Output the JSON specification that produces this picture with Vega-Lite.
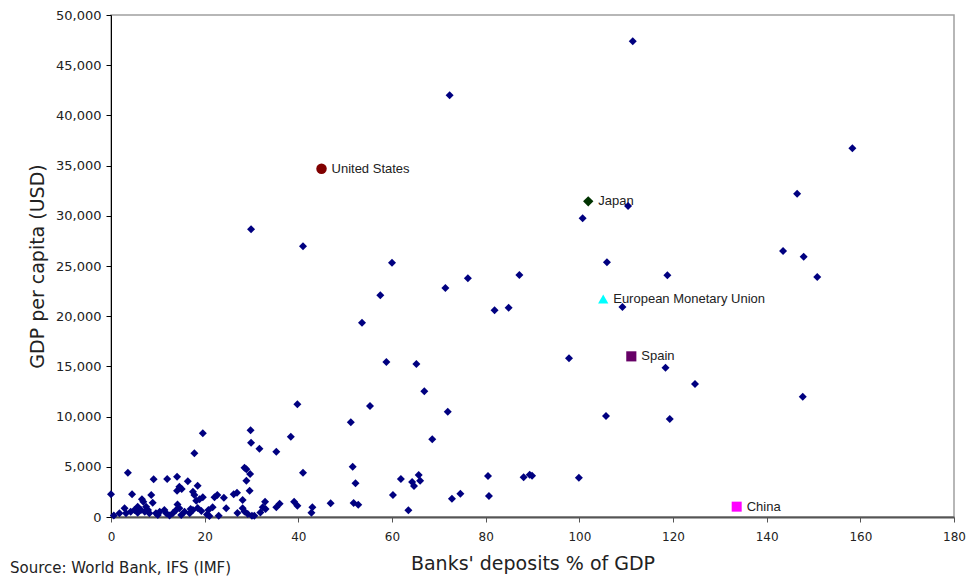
{
  "$schema": "https://vega.github.io/schema/vega-lite/v6.json",
  "width": 843,
  "height": 502,
  "autosize": "none",
  "padding": {"left": 111, "top": 15, "right": 17, "bottom": 64},
  "background": "white",
  "config": {
    "view": {"stroke": "#A0A0A0", "strokeWidth": 1.5},
    "axis": {"grid": false, "labelFlush": false, "labelFont": "DejaVu Sans", "titleFont": "DejaVu Sans", "titleFontWeight": "normal", "labelColor": "#222", "titleColor": "#222"}
  },
  "title": {
    "text": "Source: World Bank, IFS (IMF)",
    "orient": "bottom",
    "anchor": "start",
    "frame": "group",
    "dx": -101,
    "offset": -12,
    "font": "DejaVu Sans",
    "fontSize": 15,
    "fontWeight": "normal",
    "color": "#222"
  },
  "datasets": {
    "pts": [
      {"x":111.4,"y":47380},{"x":158.3,"y":36720},{"x":110.4,"y":30980},{"x":100.7,"y":29750},{"x":146.5,"y":32200},
      {"x":105.9,"y":25370},{"x":118.8,"y":24070},{"x":143.5,"y":26490},{"x":147.9,"y":25930},{"x":150.8,"y":23900},
      {"x":109.2,"y":20920},{"x":97.8,"y":15800},{"x":118.4,"y":14870},{"x":124.7,"y":13250},{"x":147.7,"y":11980},
      {"x":105.7,"y":10060},{"x":119.3,"y":9760},{"x":99.9,"y":3920},{"x":72.3,"y":42000},{"x":29.9,"y":28650},
      {"x":41.0,"y":26960},{"x":60.0,"y":25330},{"x":57.5,"y":22080},{"x":53.6,"y":19350},{"x":71.4,"y":22810},
      {"x":76.2,"y":23770},{"x":87.2,"y":24100},{"x":81.9,"y":20590},{"x":84.9,"y":20850},{"x":58.8,"y":15440},
      {"x":65.2,"y":15240},{"x":66.9,"y":12520},{"x":39.8,"y":11220},{"x":38.4,"y":8000},{"x":35.3,"y":6500},
      {"x":41.0,"y":4410},{"x":36.0,"y":1330},{"x":39.1,"y":1520},{"x":39.8,"y":1130},{"x":43.0,"y":960},
      {"x":42.8,"y":430},{"x":46.9,"y":1360},{"x":51.2,"y":9430},{"x":55.3,"y":11060},{"x":71.9,"y":10490},
      {"x":68.6,"y":7740},{"x":51.6,"y":5010},{"x":52.2,"y":3350},{"x":51.8,"y":1390},{"x":52.8,"y":1230},
      {"x":60.2,"y":2190},{"x":61.9,"y":3780},{"x":63.5,"y":670},{"x":64.3,"y":3490},{"x":64.7,"y":3090},
      {"x":65.7,"y":4180},{"x":66.0,"y":3620},{"x":72.8,"y":1830},{"x":74.6,"y":2320},{"x":80.5,"y":4080},
      {"x":80.7,"y":2090},{"x":88.1,"y":3950},{"x":89.4,"y":4210},{"x":89.9,"y":4110},
      {"x":0.0,"y":2260},{"x":0.6,"y":150},{"x":3.6,"y":4410},{"x":4.5,"y":2260},{"x":6.6,"y":1760},
      {"x":6.9,"y":1520},{"x":8.6,"y":2190},{"x":8.9,"y":1420},{"x":9.1,"y":3770},{"x":12.0,"y":3780},
      {"x":14.1,"y":4020},{"x":14.6,"y":3020},{"x":14.1,"y":2620},{"x":15.1,"y":2790},{"x":16.4,"y":3550},
      {"x":17.5,"y":2520},{"x":17.8,"y":2190},{"x":18.5,"y":3120},{"x":17.8,"y":6340},{"x":19.6,"y":8330},
      {"x":18.9,"y":1760},{"x":19.6,"y":1960},{"x":22.1,"y":1960},{"x":22.7,"y":2190},{"x":24.1,"y":1920},
      {"x":26.2,"y":2260},{"x":26.9,"y":2420},{"x":28.1,"y":1690},{"x":28.5,"y":4910},{"x":28.9,"y":4750},
      {"x":28.9,"y":3620},{"x":29.7,"y":4280},{"x":29.8,"y":8650},{"x":29.9,"y":7400},{"x":31.7,"y":6800},
      {"x":29.6,"y":2620},{"x":30.1,"y":130},{"x":32.9,"y":1530},{"x":32.4,"y":970},{"x":35.3,"y":970},
      {"x":21.7,"y":970},{"x":24.6,"y":870},{"x":28.1,"y":870},{"x":23.0,"y":130},{"x":27.0,"y":400},
      {"x":28.5,"y":550},{"x":29.2,"y":300},{"x":30.6,"y":130},{"x":31.9,"y":460},{"x":33.0,"y":800},
      {"x":18.5,"y":900},{"x":19.3,"y":600},{"x":17.0,"y":800},{"x":20.5,"y":250},{"x":21.0,"y":100},
      {"x":20.8,"y":700},{"x":1.8,"y":370},{"x":2.9,"y":870},{"x":3.2,"y":370},{"x":4.2,"y":530},
      {"x":5.0,"y":700},{"x":5.7,"y":430},{"x":6.4,"y":700},{"x":7.2,"y":530},{"x":7.9,"y":700},
      {"x":8.2,"y":370},{"x":9.6,"y":370},{"x":10.4,"y":530},{"x":11.4,"y":700},{"x":11.8,"y":370},
      {"x":13.2,"y":370},{"x":13.9,"y":700},{"x":14.6,"y":870},{"x":15.7,"y":530},{"x":16.8,"y":370},
      {"x":17.5,"y":700},{"x":14.2,"y":1250},{"x":5.7,"y":1030},{"x":7.5,"y":1030},{"x":18.2,"y":1620},
      {"x":10.0,"y":200},{"x":12.5,"y":150},{"x":15.0,"y":200}
    ],
    "hl": [
      {"country":"United States","x":44.95,"y":34690},
      {"country":"Japan","x":101.9,"y":31440},
      {"country":"European Monetary Union","x":105.1,"y":21710},
      {"country":"Spain","x":111.1,"y":16000},
      {"country":"China","x":133.6,"y":1030}
    ]
  },
  "encoding": {
    "x": {"field": "x", "type": "quantitative", "scale": {"domain": [0, 180], "nice": false},
      "axis": {"title": "Banks' deposits % of GDP", "values": [0,20,40,60,80,100,120,140,160,180], "format": "d",
        "domainColor": "#555", "domainWidth": 2, "tickColor": "#555", "tickSize": 5, "labelFontSize": 12,
        "labelPadding": 9, "titleFontSize": 19, "titlePadding": 12}},
    "y": {"field": "y", "type": "quantitative", "scale": {"domain": [0, 50000], "nice": false},
      "axis": {"title": "GDP per capita (USD)", "values": [0,5000,10000,15000,20000,25000,30000,35000,40000,45000,50000], "format": ",d",
        "domainColor": "#000", "domainWidth": 1, "tickColor": "#000", "tickSize": 5, "labelFontSize": 13,
        "labelPadding": 5, "titleFontSize": 19, "titlePadding": 8}}
  },
  "layer": [
    {
      "data": {"name": "hl"},
      "mark": {"type": "text", "align": "left", "baseline": "middle", "dx": 10, "font": "Liberation Sans", "fontSize": 13, "color": "#222"},
      "encoding": {"text": {"field": "country"}}
    },
    {
      "data": {"name": "pts"},
      "mark": {"type": "point", "shape": "diamond", "filled": true, "size": 64, "color": "#000080", "opacity": 1}
    },
    {
      "data": {"name": "hl"},
      "mark": {"type": "point", "filled": true, "opacity": 1},
      "encoding": {
        "shape": {"field": "country", "type": "nominal", "legend": null,
          "scale": {"domain": ["United States","Japan","European Monetary Union","Spain","China"], "range": ["circle","diamond","triangle-up","square","square"]}},
        "color": {"field": "country", "type": "nominal", "legend": null,
          "scale": {"domain": ["United States","Japan","European Monetary Union","Spain","China"], "range": ["#800000","#003300","#00FFFF","#660066","#FF00FF"]}},
        "size": {"field": "country", "type": "nominal", "legend": null,
          "scale": {"domain": ["United States","Japan","European Monetary Union","Spain","China"], "range": [110,100,130,100,121]}}
      }
    }
  ]
}
